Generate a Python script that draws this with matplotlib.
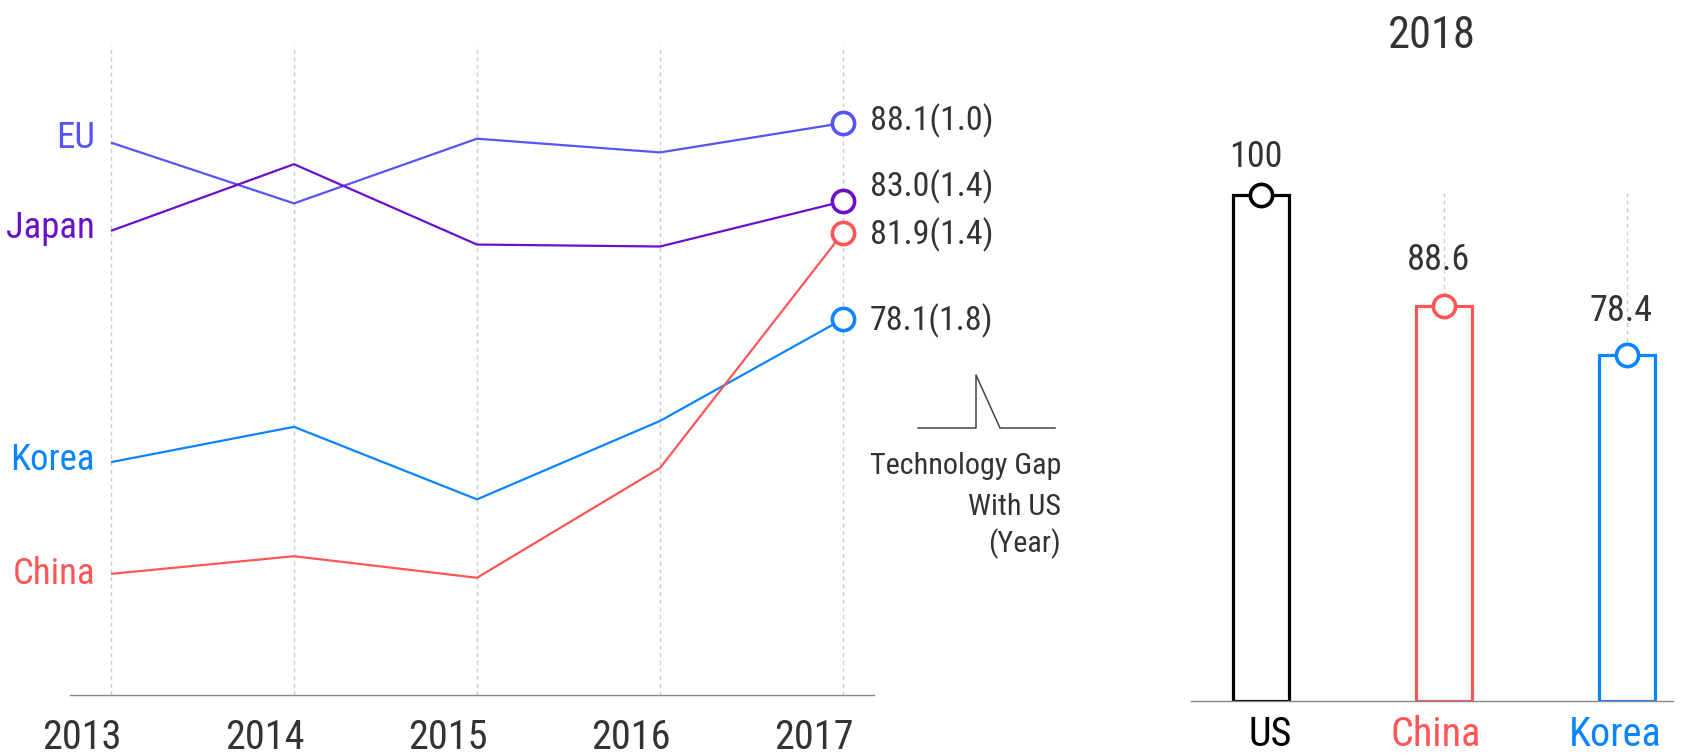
import matplotlib
matplotlib.use("Agg")
import matplotlib.pyplot as plt
from matplotlib.lines import Line2D
from matplotlib import font_manager as fm

_avail = set(f.name for f in fm.fontManager.ttflist)
_cands = ['Roboto Condensed', 'Archivo Narrow', 'Liberation Sans Narrow', 'Barlow Semi Condensed', 'Liberation Sans']
_font = next((c for c in _cands if c in _avail), 'DejaVu Sans')
plt.rcParams['font.family'] = [_font, 'DejaVu Sans']

# ---------------- data ----------------
years = [2013, 2014, 2015, 2016, 2017]
countries = ['EU', 'Japan', 'Korea', 'China']
eu_vals = [87.1, 84.0, 87.3, 86.6, 88.1]
japan_vals = [82.6, 86.0, 81.9, 81.8, 84.1]
korea_vals = [70.8, 72.6, 68.9, 72.9, 78.1]
china_vals = [65.1, 66.0, 64.9, 70.5, 82.5]
end_labels = ['88.1(1.0)', '83.0(1.4)', '78.1(1.8)', '81.9(1.4)']

bar_cats = ['US', 'China', 'Korea']
bar_vals = [100.0, 78.1, 68.4]
bar_labels = ['100', '88.6', '78.4']

# ---------------- style ----------------
colors = {'EU': '#5555F5', 'Japan': '#6A0FCB', 'Korea': '#0A84FF', 'China': '#FF5555', 'US': '#000000'}
txt = '#333333'
grid_c = '#CCCCCC'
PT = 72 / 100  # points per pixel at dpi 100

fig = plt.figure(figsize=(16.9, 7.55), dpi=100)

# ---------------- left line chart ----------------
ax = fig.add_axes([70/1690, (755-695)/755, 804/1690, 650/755])
series = {'EU': eu_vals, 'Japan': japan_vals, 'Korea': korea_vals, 'China': china_vals}
name_dy = {'EU': -3.6, 'Japan': -5.0, 'Korea': -5.8, 'China': -7.0}
end_dy = {'EU': -5.0, 'Japan': 3.5, 'Korea': -8.0, 'China': -8.5}
for (name, vals), lab in zip(series.items(), end_labels):
    c = colors[name]
    ax.plot(years, vals, color=c, lw=1.6, zorder=3, solid_capstyle='butt')
    ax.plot(years[-1], vals[-1], 'o', ms=16, mfc='white', mec=c, mew=2.6, zorder=4)
    ax.annotate(name, xy=(years[0], vals[0]), xytext=(-11.5, name_dy[name]),
                textcoords='offset points', ha='right', va='baseline',
                color=c, fontsize=26.5)
    ax.annotate(lab, xy=(years[-1], vals[-1]), xytext=(19.4, end_dy[name]),
                textcoords='offset points', ha='left', va='baseline',
                color=txt, fontsize=24.5, annotation_clip=False)

ax.set_xlim(2013 - 41/183, 2017 + 31/183)
ax.set_ylim(58.92, 92.08)
ax.set_xticks(years)
ax.set_xticklabels([])
ax.set_yticks([])
ax.tick_params(axis='x', length=0)
xb = ax.get_xaxis_transform()
for y in years:
    ax.annotate(str(y), xy=(y, 0), xycoords=xb, xytext=(-29*PT, -54*PT),
                textcoords='offset points', ha='center', va='baseline',
                fontsize=29, color=txt, annotation_clip=False)
for s in ['top', 'left', 'right']:
    ax.spines[s].set_visible(False)
ax.spines['bottom'].set_color('#888888')
ax.spines['bottom'].set_linewidth(1.0)
ax.grid(axis='x', color=grid_c, ls=(0, (3, 2.5)), lw=1.0, zorder=0)
ax.set_axisbelow(True)

# legend glyph and caption
px = lambda x, y: (x/1690, 1 - y/755)
gx, gy = zip(*[px(918, 428), px(976, 428), px(976, 375), px(1000, 428), px(1055, 428)])
fig.add_artist(Line2D(gx, gy, color='#444444', lw=1.1, transform=fig.transFigure))
for line, yb in zip(['Technology Gap', 'With US', '(Year)'], [474, 515, 552]):
    fig.text(1061/1690, 1 - yb/755, line, ha='right', va='baseline', fontsize=21.7, color=txt)

# ---------------- right bar chart ----------------
bx = fig.add_axes([1191/1690, (755-701)/755, 482/1690, 510/755])
xs = list(range(len(bar_cats)))
bar_colors = [colors[c] for c in bar_cats]
bx.bar(xs, bar_vals, width=0.31, facecolor='white', edgecolor=bar_colors, lw=2.3, zorder=2)
lab_dy = [20, 25.5, 24.5]
for x, v, c, lab, dy in zip(xs, bar_vals, bar_colors, bar_labels, lab_dy):
    bx.plot(x, v, 'o', ms=16, mfc='white', mec=c, mew=2.6, zorder=4, clip_on=False)
    bx.annotate(lab, xy=(x, v), xytext=(-4, dy), textcoords='offset points',
                ha='center', va='baseline', fontsize=26, color=txt, annotation_clip=False)
bx.set_xlim(-0.383, 2.251)
bx.set_ylim(0, 100.8)
bx.set_xticks(xs)
bx.set_xticklabels([])
bx.set_yticks([])
bx.tick_params(axis='x', length=0)
cat_dx = [9, -8, -12]
bxb = bx.get_xaxis_transform()
for x, cat, c, dx in zip(xs, bar_cats, bar_colors, cat_dx):
    bx.annotate(cat, xy=(x, 0), xycoords=bxb, xytext=(dx*PT, -45*PT),
                textcoords='offset points', ha='center', va='baseline',
                fontsize=29, color=c, annotation_clip=False)
for s in ['top', 'left', 'right']:
    bx.spines[s].set_visible(False)
bx.spines['bottom'].set_color('#888888')
bx.spines['bottom'].set_linewidth(1.0)
bx.grid(axis='x', color=grid_c, ls=(0, (3, 2.5)), lw=1.0, zorder=0)
bx.set_axisbelow(True)

fig.text(1432/1690, 1 - 48/755, '2018', ha='center', va='baseline', fontsize=32, color=txt)

fig.savefig('out.png', dpi=100, facecolor='white')
